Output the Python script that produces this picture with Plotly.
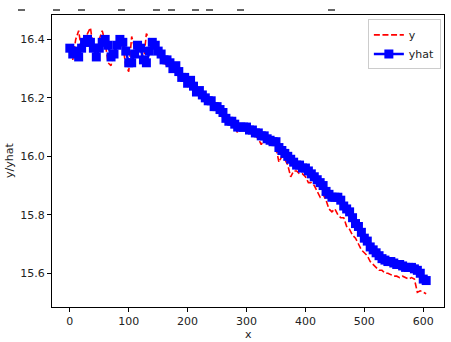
import plotly.graph_objects as go

x_vals = list(range(0, 610, 5))

y_actual = [
    16.36, 16.33, 16.40, 16.43, 16.36, 16.38, 16.42, 16.44, 16.37, 16.33,
    16.40, 16.43, 16.39, 16.32, 16.31, 16.36, 16.39, 16.41, 16.38, 16.31,
    16.29, 16.41, 16.37, 16.39, 16.36, 16.32, 16.42, 16.40, 16.37, 16.38,
    16.35, 16.34, 16.32, 16.31, 16.32, 16.29, 16.30, 16.27, 16.26, 16.27,
    16.24, 16.25, 16.23, 16.21, 16.21, 16.20, 16.19, 16.18, 16.18, 16.16,
    16.16, 16.15, 16.13, 16.12, 16.11, 16.11, 16.10, 16.08, 16.09, 16.09,
    16.09, 16.08, 16.08, 16.07, 16.06, 16.04, 16.06, 16.05, 16.04, 16.04,
    16.03, 15.98, 16.00, 15.99, 15.97, 15.93, 15.95, 15.95, 15.94, 15.94,
    15.93, 15.91, 15.91, 15.90, 15.88, 15.86, 15.87, 15.85, 15.82, 15.81,
    15.82, 15.80, 15.79, 15.79, 15.76, 15.75, 15.73, 15.72, 15.70, 15.68,
    15.67, 15.66, 15.64, 15.63, 15.62, 15.61, 15.61, 15.60, 15.60, 15.595,
    15.59, 15.59, 15.585, 15.59, 15.585, 15.58, 15.585, 15.58, 15.535, 15.54,
    15.535, 15.53,
]

y_hat = [
    16.37, 16.35, 16.36, 16.34, 16.37, 16.39, 16.40, 16.39, 16.37, 16.34,
    16.37, 16.39, 16.40, 16.38, 16.34, 16.35, 16.38, 16.40, 16.39, 16.36,
    16.32, 16.32, 16.35, 16.38, 16.37, 16.33, 16.32, 16.36, 16.39, 16.38,
    16.36, 16.35, 16.33, 16.33, 16.32, 16.30, 16.31, 16.29, 16.27, 16.27,
    16.25, 16.26, 16.24, 16.22, 16.225, 16.21, 16.20, 16.19, 16.19, 16.17,
    16.17, 16.16, 16.15, 16.13, 16.12, 16.12, 16.11, 16.10, 16.10, 16.10,
    16.10, 16.09, 16.09, 16.08, 16.08, 16.07, 16.07, 16.06, 16.055, 16.05,
    16.05, 16.03, 16.02, 16.01, 16.00, 15.99, 15.98, 15.97, 15.97, 15.96,
    15.96, 15.95, 15.94, 15.93, 15.92, 15.91, 15.90, 15.88, 15.87, 15.86,
    15.86, 15.86, 15.85, 15.83, 15.82, 15.81, 15.79, 15.77, 15.76, 15.74,
    15.72, 15.71, 15.69, 15.68, 15.67, 15.66, 15.65, 15.645, 15.64, 15.64,
    15.635, 15.63, 15.63, 15.625, 15.62, 15.62, 15.62, 15.615, 15.61, 15.60,
    15.58, 15.575,
]

x_ticks = [0, 100, 200, 300, 400, 500, 600]
y_ticks = [15.6, 15.8, 16.0, 16.2, 16.4]

# clipped fragments visible above the axes (pixel x positions)
top_fragments = [18, 53, 78, 118, 153, 168, 192, 206, 237, 328]

FONT = "DejaVu Sans"

fig = go.Figure()
fig.add_trace(go.Scatter(
    x=x_vals, y=y_actual, mode="lines", name="y",
    line=dict(color="red", width=1.6, dash="6px,2.6px"),
))
fig.add_trace(go.Scatter(
    x=x_vals, y=y_hat, mode="lines+markers", name="yhat",
    line=dict(color="blue", width=2.5),
    marker=dict(symbol="square", size=9, color="blue", line=dict(width=0)),
))

W, H = 451, 342
L, R, T, B = 52, 7, 15, 35
pw, ph = W - L - R, H - T - B
for px in top_fragments:
    x0 = (px - L) / pw
    x1 = (px + 7 - L) / pw
    yy = (ph + 5) / ph
    fig.add_shape(type="line", xref="paper", yref="paper",
                  x0=x0, x1=x1, y0=yy, y1=yy,
                  line=dict(color="black", width=1.2))

axis_common = dict(
    showgrid=False, zeroline=False, showline=True, mirror=True,
    linecolor="black", linewidth=1, ticks="outside", ticklen=4,
    tickcolor="black", tickwidth=1, automargin=False,
    tickfont=dict(family=FONT, size=11, color="#222"),
)

fig.update_layout(
    width=W, height=H,
    margin=dict(l=L, r=R, t=T, b=B, autoexpand=False),
    paper_bgcolor="white", plot_bgcolor="white",
    font=dict(family=FONT, size=11, color="#222"),
    xaxis=dict(range=[-30.25, 635.25], tickvals=x_ticks, **axis_common),
    yaxis=dict(range=[15.4845, 16.4835], tickvals=y_ticks,
               tickformat=".1f", **axis_common),
    legend=dict(x=0.992, y=0.985, xanchor="right", yanchor="top",
                bgcolor="rgba(255,255,255,0.85)", bordercolor="#cccccc",
                borderwidth=1, font=dict(family=FONT, size=11, color="#222"),
                itemwidth=30, tracegroupgap=0),
    showlegend=True,
    annotations=[
        dict(text="x", xref="paper", yref="paper", x=0.5, y=-27 / ph,
             xanchor="center", yanchor="middle", showarrow=False,
             font=dict(family=FONT, size=11, color="#222")),
        dict(text="y/yhat", xref="paper", yref="paper", x=(9 - L) / pw, y=0.5,
             xanchor="center", yanchor="middle", textangle=-90, showarrow=False,
             font=dict(family=FONT, size=11, color="#222")),
    ],
)

fig.write_html(
    "out.html",
    config={"displayModeBar": False},
    post_script="document.body.style.margin='0';document.body.style.overflow='hidden';",
)
